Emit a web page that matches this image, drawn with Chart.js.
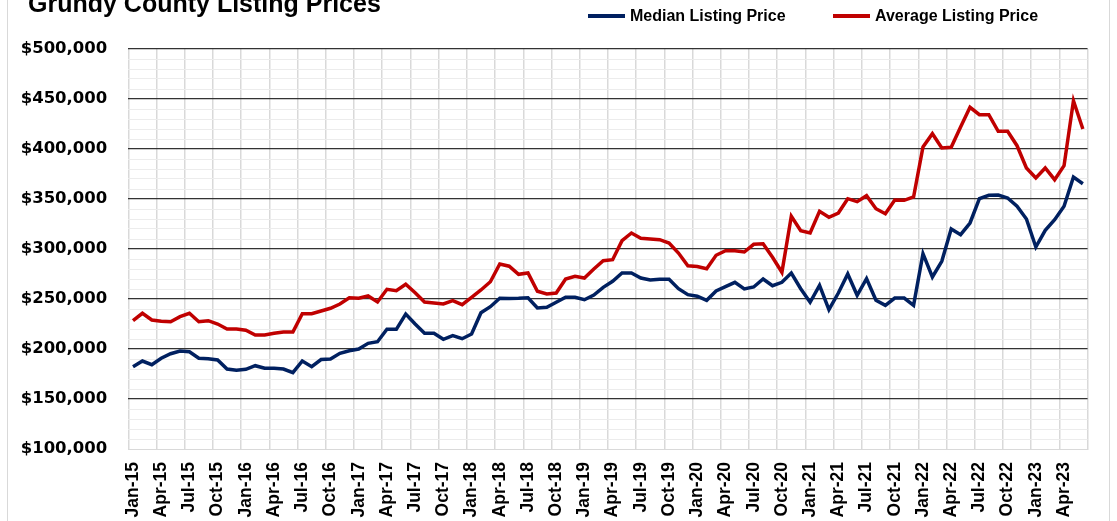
<!DOCTYPE html>
<html>
<head>
<meta charset="utf-8">
<script src="https://cdn.jsdelivr.net/npm/chart.js@4.4.1/dist/chart.umd.min.js"></script>
<style>
  html, body { margin: 0; padding: 0; background: #ffffff; }
  #wrap { position: relative; width: 1117px; height: 521px; overflow: hidden; }
  canvas { display: block; }
</style>
</head>
<body>
<div id="wrap"><canvas id="c" width="1117" height="521"></canvas></div>
<script>
// ---- data ----
const chartTitle = "Grundy County Listing Prices";
const monthNames = ["Jan","Feb","Mar","Apr","May","Jun","Jul","Aug","Sep","Oct","Nov","Dec"];
const yearSuffixes = ["15","16","17","18","19","20","21","22","23"];
const monthCount = 102; // Jan-15 .. Jun-23
const categories = yearSuffixes.flatMap(y => monthNames.map(m => m + "-" + y)).slice(0, monthCount);

const seriesNames = ["Median Listing Price", "Average Listing Price"];

const medianPrice = [
  182300, 188000, 184300, 190700, 195300, 198000, 197300, 190700, 190300, 189000, 180000, 178700,
  179700, 183300, 180700, 180700, 180000, 176300, 188000, 182300, 189500, 190000, 195700, 198300,
  200000, 205700, 207300, 219700, 219700, 235000, 225000, 215700, 215700, 209700, 213300, 210300,
  215000, 236300, 242300, 250700, 250500, 250700, 251300, 241000, 241700, 246700, 251700, 251700,
  249300, 254000, 261700, 267700, 276000, 276000, 271000, 269000, 269700, 269700, 260300, 254300,
  252800, 248700, 258000, 262300, 266700, 260000, 262000, 270000, 263300, 266700, 276000, 260300,
  246700, 263700, 239300, 256000, 275000, 253700, 270300, 248700, 243700, 251000, 251000, 243700,
  295300, 272000, 287700, 320000, 314300, 326000, 350300, 353700, 354000, 351000, 342700, 330000,
  302000, 318700, 329300, 342700, 372000, 365300
];

const averagePrice = [
  228300, 235700, 229000, 227700, 227300, 232300, 235700, 227300, 228300, 225000, 220000, 220000,
  218700, 214000, 214000, 215700, 217000, 217000, 235300, 235300, 238000, 240700, 245000, 251300,
  250700, 253000, 247000, 259700, 258300, 264700, 256300, 247000, 246000, 245000, 248300, 244300,
  251700, 259000, 267300, 285000, 282800, 274700, 276000, 257700, 255000, 256000, 270000, 272700,
  271000, 280000, 288300, 289300, 308300, 316000, 310700, 310000, 309300, 306000, 296000, 283300,
  282500, 280300, 293700, 298300, 298300, 297000, 304700, 305300, 291700, 276700, 332700, 318300,
  316000, 337700, 331700, 336000, 350300, 347300, 353300, 340300, 335300, 349000, 348700, 352000,
  402000, 415300, 401000, 401700, 422000, 441700, 434300, 434300, 417700, 417700, 403300, 381000,
  371000, 381000, 369300, 383300, 448300, 420000
];

const yMin = 100000, yMax = 500000, yMinorStep = 10000, yMajorStep = 50000;
const labelEvery = 3;
const seriesColors = ["#002060", "#C00000"];

// ---- decoration plugin: frame, title, legend ----
const decor = {
  id: "decor",
  beforeDraw(chart) {
    const ctx = chart.ctx;
    ctx.save();
    ctx.fillStyle = "#ffffff";
    ctx.fillRect(0, 0, chart.width, chart.height);
    ctx.strokeStyle = "#d9d9d9";
    ctx.lineWidth = 1;
    ctx.strokeRect(7.5, -20, 1102, 600);
    ctx.restore();
  },
  afterDraw(chart) {
    const ctx = chart.ctx;
    ctx.save();
    ctx.fillStyle = "#000000";
    ctx.textBaseline = "alphabetic";
    ctx.textAlign = "left";
    ctx.font = "bold 25px 'Liberation Sans', Arial, sans-serif";
    ctx.fillText(chartTitle, 28, 12);
    const items = [
      { x: 588, color: seriesColors[0], text: seriesNames[0] },
      { x: 833, color: seriesColors[1], text: seriesNames[1] }
    ];
    ctx.font = "bold 16px 'Liberation Sans', Arial, sans-serif";
    ctx.textBaseline = "middle";
    items.forEach(it => {
      ctx.strokeStyle = it.color;
      ctx.lineWidth = 4;
      ctx.lineCap = "butt";
      ctx.beginPath();
      ctx.moveTo(it.x, 16);
      ctx.lineTo(it.x + 37, 16);
      ctx.stroke();
      ctx.fillStyle = "#000000";
      ctx.fillText(it.text, it.x + 42, 17);
    });
    ctx.restore();
  }
};

new Chart(document.getElementById("c"), {
  type: "line",
  data: {
    labels: categories,
    datasets: [
      { label: seriesNames[0], data: medianPrice, borderColor: seriesColors[0], backgroundColor: seriesColors[0],
        borderWidth: 3.5, pointRadius: 0, tension: 0, fill: false },
      { label: seriesNames[1], data: averagePrice, borderColor: seriesColors[1], backgroundColor: seriesColors[1],
        borderWidth: 3.5, pointRadius: 0, tension: 0, fill: false }
    ]
  },
  options: {
    responsive: false,
    animation: false,
    devicePixelRatio: 1,
    layout: { padding: { left: 20, right: 29.3, top: 49, bottom: 0 } },
    plugins: { legend: { display: false }, title: { display: false }, tooltip: { enabled: false } },
    scales: {
      x: {
        type: "category",
        offset: true,
        grid: {
          offset: true,
          drawTicks: false,
          lineWidth: 1.5,
          color: (c) => (c.index === undefined || c.index % labelEvery === 0) ? "#d9d9d9" : "rgba(0,0,0,0)"
        },
        border: { display: true, color: "#d9d9d9", width: 1 },
        ticks: {
          autoSkip: false,
          minRotation: 90,
          maxRotation: 90,
          padding: 13,
          color: "#000000",
          font: { family: "'Liberation Sans', Arial, sans-serif", size: 17.5, weight: "bold" },
          callback: function (v, i) { return i % labelEvery === 0 ? categories[i] : ""; }
        },
        afterFit: (s) => { s.height = 72; }
      },
      y: {
        min: yMin,
        max: yMax,
        grid: {
          drawTicks: false,
          lineWidth: (c) => (c.tick && c.tick.value % yMajorStep === 0 && c.tick.value !== yMin) ? 1.3 : 1,
          color: (c) => {
            if (!c.tick) return "#ececec";
            const v = c.tick.value;
            if (v === yMin) return "#d9d9d9";
            return v % yMajorStep === 0 ? "#333333" : "#ececec";
          }
        },
        border: { display: false },
        ticks: {
          stepSize: yMinorStep,
          autoSkip: false,
          padding: 21,
          color: "#000000",
          font: { family: "'DejaVu Sans', sans-serif", size: 16.5, weight: "bold" },
          callback: (v) => v % yMajorStep === 0 ? "$" + v.toLocaleString("en-US") : ""
        },
        afterFit: (s) => { s.width = 108.3; }
      }
    }
  },
  plugins: [decor]
});
</script>
</body>
</html>
